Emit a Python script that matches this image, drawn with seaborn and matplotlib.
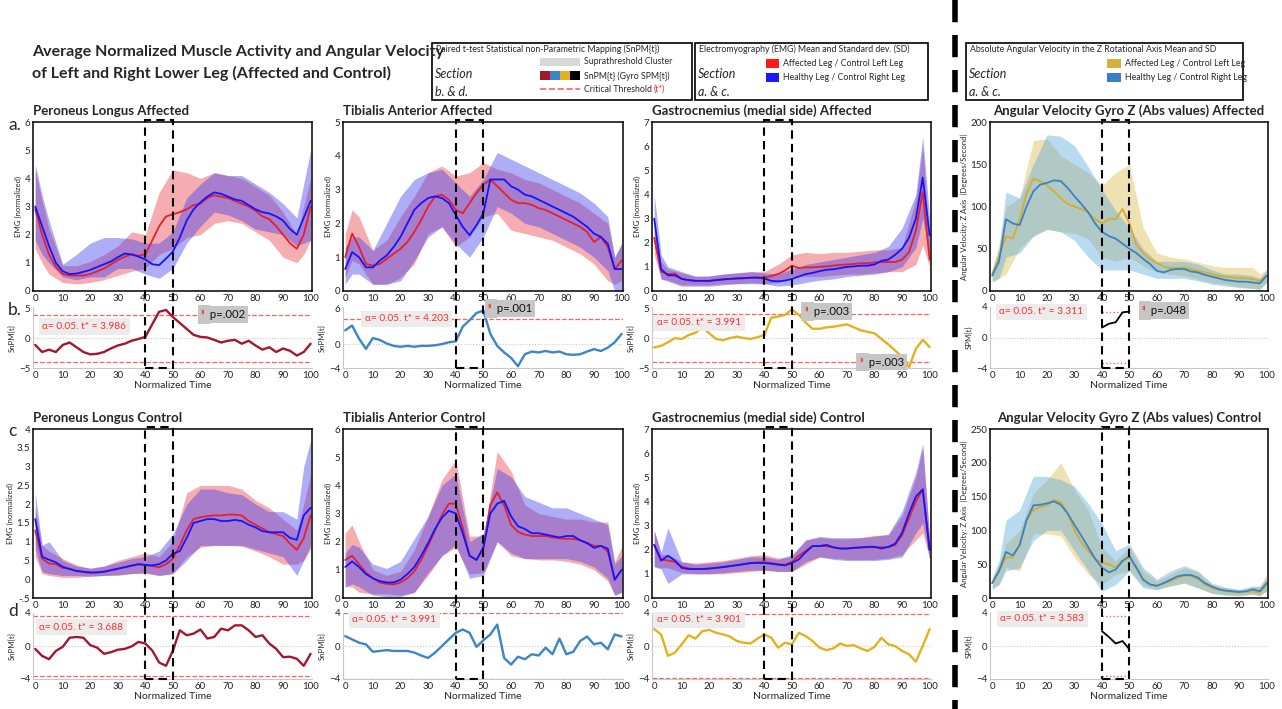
import numpy as np
import matplotlib
matplotlib.use("Agg")
import matplotlib.pyplot as plt
import matplotlib.transforms as mtransforms
from matplotlib.patches import Rectangle
from matplotlib.lines import Line2D
import seaborn as sns

sns.set_style("white")
plt.rcParams['font.family'] = ['Lato', 'DejaVu Sans']

# normalized time grids
x_mean = np.arange(0, 100.1, 2.5)
x_band = [0, 2.5, 5, 10, 15, 20, 25, 30, 35, 40, 45, 50, 55, 60, 65, 70, 75, 80, 85, 90, 95, 97.5, 100]
x_gyro_spm = [40, 42.5, 45, 47.5, 50]

# ---- Peroneus Longus affected
pl_a_red = [2.9, 2.0, 1.3, 0.85, 0.6, 0.55, 0.55, 0.55, 0.6, 0.7, 0.8, 0.95, 1.1, 1.22, 1.3, 1.25, 1.3, 1.8, 2.3, 2.65,
            2.72, 2.8, 2.9, 3.05, 3.1, 3.3, 3.4, 3.35, 3.3, 3.2, 3.1, 3.0, 2.85, 2.65, 2.55, 2.3, 2.0, 1.7, 1.5, 2.0, 3.0]
pl_a_blue = [3.0, 2.3, 1.6, 1.0, 0.7, 0.6, 0.62, 0.68, 0.75, 0.85, 0.95, 1.05, 1.2, 1.33, 1.3, 1.22, 1.12, 0.95, 0.92, 1.15,
             1.4, 1.9, 2.5, 2.9, 3.15, 3.35, 3.5, 3.45, 3.35, 3.25, 3.2, 3.05, 2.9, 2.8, 2.75, 2.65, 2.5, 2.2, 2.0, 2.6, 3.2]
pl_a_red_lo = [1.5, 1.0, 0.6, 0.3, 0.25, 0.3, 0.4, 0.55, 0.7, 0.8, 1.3, 1.5, 1.9, 2.0, 2.4, 2.5, 2.4, 2.1, 1.8, 1.2, 1.0, 1.3, 1.8]
pl_a_red_hi = [4.3, 3.2, 2.2, 0.9, 0.9, 1.05, 1.3, 1.6, 2.1, 2.0, 3.5, 4.3, 4.2, 4.0, 4.2, 4.1, 4.0, 3.7, 3.4, 2.8, 2.0, 3.0, 4.0]
pl_a_blue_lo = [1.8, 1.3, 1.0, 0.5, 0.4, 0.5, 0.5, 0.8, 0.8, 0.6, 0.45, 0.8, 1.7, 2.3, 2.8, 2.7, 2.5, 2.2, 2.1, 2.0, 1.6, 1.7, 1.8]
pl_a_blue_hi = [4.5, 3.4, 2.5, 0.95, 1.3, 1.7, 1.9, 1.9, 1.85, 1.7, 1.7, 2.1, 3.3, 3.8, 4.2, 4.1, 4.1, 3.8, 3.5, 3.1, 2.6, 3.8, 5.0]
pl_a_spm = [-1.1, -2.3, -1.9, -2.3, -1.1, -0.7, -1.5, -2.3, -2.7, -2.6, -2.3, -1.7, -1.2, -0.9, -0.4, -0.1, 0.25, 2.4, 4.5, 4.8,
            3.6, 2.6, 1.6, 0.6, 0.25, 0.15, -0.25, -0.7, -0.4, -0.25, -0.9, -0.4, -1.2, -1.9, -1.5, -2.3, -1.7, -2.1, -2.9, -2.3, -0.9]

# ---- Tibialis Anterior affected
ta_a_red = [1.0, 1.7, 1.3, 0.8, 0.75, 0.8, 0.95, 1.1, 1.25, 1.45, 1.75, 2.1, 2.5, 2.8, 2.85, 2.7, 2.4, 2.3, 2.6, 2.9,
            3.15, 3.3, 3.1, 2.9, 2.7, 2.6, 2.6, 2.55, 2.45, 2.4, 2.3, 2.2, 2.1, 2.0, 1.9, 1.75, 1.45, 1.6, 1.3, 0.65, 0.9]
ta_a_blue = [0.65, 1.15, 1.0, 0.7, 0.7, 0.9, 1.05, 1.3, 1.6, 2.0, 2.4, 2.6, 2.75, 2.8, 2.75, 2.6, 2.25, 1.9, 1.65, 1.95,
             2.3, 3.3, 3.3, 3.3, 3.1, 3.0, 2.85, 2.8, 2.7, 2.6, 2.5, 2.4, 2.3, 2.2, 2.05, 1.9, 1.7, 1.6, 1.4, 0.65, 0.65]
ta_a_red_lo = [0.4, 0.9, 0.8, 0.2, 0.2, 0.4, 0.8, 1.7, 1.9, 1.3, 1.6, 2.2, 2.3, 1.8, 1.7, 1.6, 1.5, 1.3, 1.1, 0.8, 0.3, 0.2, 0.3]
ta_a_red_hi = [1.7, 2.4, 2.2, 1.2, 1.5, 2.2, 2.8, 3.5, 3.7, 3.4, 3.5, 3.8, 3.6, 3.5, 3.3, 3.2, 3.0, 2.8, 2.6, 2.3, 2.0, 1.0, 1.4]
ta_a_blue_lo = [0.2, 0.5, 0.5, 0.2, 0.2, 0.3, 0.9, 1.6, 1.9, 1.4, 1.0, 1.6, 2.5, 2.3, 2.0, 1.9, 1.7, 1.5, 1.3, 1.0, 0.6, 0.0, 0.0]
ta_a_blue_hi = [1.3, 1.6, 1.6, 1.2, 2.0, 2.8, 3.3, 3.5, 3.6, 3.2, 2.8, 3.3, 4.1, 3.9, 3.7, 3.5, 3.3, 3.1, 2.9, 2.6, 2.2, 1.0, 1.4]
ta_a_spm = [2.3, 3.1, 0.9, -0.8, 1.0, 0.7, 0.1, -0.3, -0.45, -0.3, -0.45, -0.3, -0.3, -0.2, 0.0, 0.3, 0.45, 2.9, 4.0, 5.2,
            5.6, 1.7, -0.3, -1.4, -2.3, -3.7, -1.7, -1.25, -1.4, -1.15, -1.4, -1.25, -1.7, -1.8, -1.7, -1.25, -0.85, -1.15, -0.6, 0.3, 1.7]

# ---- Gastrocnemius affected
ga_a_red = [2.2, 0.8, 0.7, 0.72, 0.5, 0.45, 0.42, 0.42, 0.42, 0.45, 0.48, 0.5, 0.52, 0.53, 0.55, 0.57, 0.55, 0.62, 0.7, 0.85,
            1.05, 0.95, 0.98, 0.98, 1.0, 1.02, 1.05, 1.08, 1.1, 1.12, 1.15, 1.15, 1.18, 1.2, 1.2, 1.2, 1.3, 1.6, 2.5, 4.1, 1.3]
ga_a_blue = [3.0, 0.9, 0.65, 0.65, 0.5, 0.45, 0.42, 0.42, 0.42, 0.45, 0.48, 0.5, 0.52, 0.53, 0.55, 0.55, 0.52, 0.42, 0.4, 0.43,
             0.5, 0.6, 0.7, 0.75, 0.82, 0.88, 0.9, 0.95, 1.0, 1.02, 1.05, 1.05, 1.1, 1.25, 1.3, 1.5, 1.75, 2.2, 3.0, 4.7, 2.3]
ga_a_red_lo = [1.5, 0.5, 0.45, 0.25, 0.25, 0.25, 0.3, 0.3, 0.35, 0.3, 0.35, 0.6, 0.6, 0.6, 0.65, 0.7, 0.7, 0.75, 0.8, 0.8, 1.1, 1.9, 1.0]
ga_a_red_hi = [2.7, 1.2, 0.9, 0.75, 0.6, 0.62, 0.7, 0.75, 0.8, 0.8, 1.1, 1.5, 1.6, 1.55, 1.6, 1.6, 1.65, 1.7, 1.7, 1.8, 3.8, 6.0, 2.0]
ga_a_blue_lo = [2.0, 0.5, 0.4, 0.2, 0.2, 0.2, 0.25, 0.3, 0.3, 0.3, 0.2, 0.25, 0.35, 0.45, 0.5, 0.6, 0.65, 0.7, 0.8, 1.0, 1.8, 3.0, 1.5]
ga_a_blue_hi = [4.0, 1.5, 1.0, 0.8, 0.62, 0.62, 0.7, 0.75, 0.8, 0.75, 0.7, 0.9, 1.1, 1.2, 1.3, 1.4, 1.5, 1.6, 1.85, 2.6, 4.0, 6.4, 3.0]
ga_a_spm = [-1.55, -1.3, -0.7, 0.0, -0.15, 0.5, 0.9, 1.8, 0.8, -0.15, -0.35, 0.0, 0.25, 0.0, -0.15, 0.15, 0.5, 3.4, 3.6, 3.9,
            4.8, 3.9, 2.6, 1.55, 1.55, 1.8, 1.9, 2.1, 2.3, 1.8, 1.3, 1.05, 0.8, -0.15, -1.05, -2.1, -3.1, -4.9, -1.8, -0.3, -1.5]

# ---- Gyro Z affected
gy_a_gold = [20, 40, 65, 62, 85, 115, 133, 130, 125, 118, 110, 103, 100, 97, 93, 85, 80, 85, 85, 97,
             80, 55, 45, 38, 33, 29, 27, 27, 28, 26, 24, 22, 20, 18, 17, 16, 15, 15, 14, 12, 18]
gy_a_blue = [18, 35, 85, 80, 78, 100, 118, 126, 128, 131, 130, 122, 112, 103, 93, 80, 70, 65, 62, 56,
             50, 45, 38, 32, 24, 22, 25, 26, 26, 23, 22, 19, 17, 15, 13, 12, 11, 11, 10, 9, 18]
gy_a_gold_lo = [12, 15, 20, 50, 65, 73, 70, 68, 62, 40, 35, 40, 30, 22, 20, 18, 14, 10, 8, 5, 3, 2, 10]
gy_a_gold_hi = [25, 55, 100, 110, 178, 180, 160, 150, 140, 125, 140, 150, 75, 45, 40, 38, 34, 30, 28, 28, 28, 20, 25]
gy_a_blue_lo = [10, 15, 40, 45, 65, 73, 70, 60, 40, 25, 25, 25, 20, 15, 15, 15, 12, 8, 6, 4, 3, 2, 10]
gy_a_blue_hi = [25, 50, 117, 110, 150, 185, 183, 172, 147, 120, 95, 75, 50, 35, 35, 35, 32, 25, 20, 20, 18, 15, 25]
gy_a_spm = [1.3, 1.8, 2.0, 3.3, 3.4]

# ---- Peroneus Longus control
pl_c_red = [1.3, 0.55, 0.42, 0.4, 0.3, 0.28, 0.22, 0.19, 0.17, 0.18, 0.2, 0.24, 0.28, 0.32, 0.37, 0.4, 0.38, 0.35, 0.32, 0.4,
            0.55, 0.9, 1.3, 1.6, 1.65, 1.68, 1.7, 1.7, 1.72, 1.72, 1.7, 1.55, 1.45, 1.35, 1.25, 1.2, 1.15, 0.95, 0.78, 1.1, 1.7]
pl_c_blue = [1.6, 0.6, 0.52, 0.45, 0.33, 0.27, 0.22, 0.2, 0.18, 0.18, 0.2, 0.24, 0.28, 0.32, 0.36, 0.4, 0.38, 0.37, 0.4, 0.5,
             0.68, 0.75, 1.1, 1.5, 1.55, 1.6, 1.6, 1.55, 1.55, 1.58, 1.55, 1.45, 1.38, 1.28, 1.25, 1.25, 1.25, 1.1, 1.05, 1.7, 1.9]
pl_c_red_lo = [0.6, 0.15, 0.1, 0.05, 0.05, 0.08, 0.1, 0.1, 0.15, 0.15, 0.1, 0.15, 0.6, 0.85, 0.9, 0.9, 0.88, 0.75, 0.6, 0.4, 0.4, 0.5, 0.8]
pl_c_red_hi = [1.9, 0.9, 0.75, 0.55, 0.38, 0.28, 0.35, 0.5, 0.6, 0.7, 0.6, 1.0, 2.3, 2.5, 2.5, 2.5, 2.4, 2.1, 1.9, 1.6, 1.3, 2.0, 2.8]
pl_c_blue_lo = [0.8, 0.2, 0.15, 0.1, 0.1, 0.08, 0.1, 0.12, 0.15, 0.18, 0.1, 0.15, 0.5, 0.9, 0.9, 0.9, 0.9, 0.8, 0.7, 0.6, 0.1, 0.5, 0.9]
pl_c_blue_hi = [2.3, 0.9, 1.0, 0.5, 0.35, 0.3, 0.35, 0.45, 0.55, 0.6, 0.75, 1.2, 2.0, 2.4, 2.4, 2.3, 2.25, 2.0, 1.8, 1.8, 1.6, 3.0, 3.7]
pl_c_spm = [-0.35, -1.2, -1.6, -0.6, -0.1, 1.0, 1.1, 1.0, 0.1, -0.2, -0.95, -0.75, -0.45, -0.35, -0.05, 0.5, 0.3, -0.55, -2.0, -2.4,
            -0.55, 1.9, 1.3, 1.5, 2.0, 0.9, 1.1, 2.1, 1.9, 2.5, 2.5, 1.9, 1.1, 1.3, 0.3, -0.35, -1.35, -1.3, -1.55, -2.4, -0.95]

# ---- Tibialis Anterior control
ta_c_red = [1.35, 1.5, 1.2, 0.9, 0.7, 0.55, 0.5, 0.48, 0.55, 0.7, 0.95, 1.35, 1.85, 2.4, 2.95, 3.35, 3.35, 2.5, 1.5, 1.35,
            1.75, 3.3, 3.75, 3.3, 2.6, 2.35, 2.25, 2.2, 2.2, 2.2, 2.15, 2.12, 2.1, 2.1, 2.05, 1.95, 1.85, 1.85, 1.65, 0.65, 1.0]
ta_c_blue = [1.1, 1.3, 1.1, 0.85, 0.7, 0.6, 0.55, 0.55, 0.65, 0.85, 1.1, 1.5, 1.95, 2.45, 2.85, 3.1, 3.0, 2.3, 1.5, 1.35,
             1.8, 3.0, 3.35, 3.45, 2.9, 2.55, 2.45, 2.3, 2.3, 2.25, 2.2, 2.15, 2.2, 2.2, 2.05, 1.95, 1.78, 1.85, 1.75, 0.65, 1.0]
ta_c_red_lo = [0.4, 0.4, 0.2, 0.15, 0.15, 0.1, 0.2, 0.8, 1.5, 1.8, 0.85, 0.9, 2.0, 1.5, 1.4, 1.35, 1.35, 1.3, 1.2, 1.0, 0.6, 0.1, 0.2]
ta_c_red_hi = [2.3, 2.6, 2.0, 1.0, 0.8, 0.95, 1.7, 2.9, 4.2, 4.9, 2.2, 2.2, 5.2, 4.5, 3.3, 3.0, 2.9, 2.8, 2.8, 2.7, 2.7, 1.3, 1.8]
ta_c_blue_lo = [0.4, 0.5, 0.4, 0.1, 0.05, 0.05, 0.2, 0.9, 1.5, 1.9, 0.7, 0.8, 2.0, 1.6, 1.4, 1.4, 1.4, 1.4, 1.3, 1.1, 0.7, 0.1, 0.2]
ta_c_blue_hi = [1.6, 1.9, 1.8, 1.2, 1.05, 1.3, 2.1, 2.9, 4.0, 4.4, 2.0, 2.3, 4.6, 4.3, 3.6, 3.4, 3.2, 3.2, 3.0, 2.8, 2.6, 1.2, 1.5]
ta_c_spm = [1.2, 0.8, 0.4, 0.2, -0.7, -0.6, -0.5, -0.6, -0.6, -0.6, -0.8, -1.15, -1.45, -0.8, 0.0, 0.8, 1.6, 2.0, 1.6, -0.1,
            0.7, 1.4, 2.6, -1.45, -2.25, -1.3, -1.6, -1.0, -1.15, -0.2, -1.0, 0.9, -1.0, -0.7, 0.6, 1.15, 0.2, 0.4, -0.4, 1.4, 1.15]

# ---- Gastrocnemius control
ga_c_red = [2.2, 1.6, 1.55, 1.5, 1.3, 1.22, 1.2, 1.2, 1.22, 1.25, 1.28, 1.32, 1.36, 1.4, 1.45, 1.48, 1.48, 1.45, 1.4, 1.38,
            1.5, 1.75, 1.95, 2.15, 2.15, 2.15, 2.1, 2.05, 2.05, 2.07, 2.08, 2.1, 2.1, 2.1, 2.1, 2.2, 2.6, 3.3, 4.0, 4.5, 2.0]
ga_c_blue = [2.2, 1.55, 1.75, 1.55, 1.25, 1.2, 1.2, 1.2, 1.22, 1.25, 1.28, 1.32, 1.36, 1.4, 1.45, 1.45, 1.45, 1.42, 1.38, 1.35,
             1.45, 1.6, 1.9, 2.15, 2.15, 2.2, 2.1, 2.05, 2.05, 2.08, 2.1, 2.12, 2.12, 2.05, 2.12, 2.25, 2.7, 3.5, 4.2, 4.5, 2.0]
ga_c_red_lo = [1.3, 1.25, 1.25, 1.05, 1.0, 1.0, 1.0, 1.05, 1.1, 1.15, 1.1, 1.1, 1.4, 1.7, 1.65, 1.6, 1.6, 1.6, 1.65, 1.8, 2.4, 2.7, 1.6]
ga_c_red_hi = [2.8, 1.8, 1.8, 1.5, 1.45, 1.5, 1.55, 1.65, 1.75, 1.8, 1.65, 1.7, 2.4, 2.5, 2.45, 2.45, 2.5, 2.6, 2.6, 3.4, 5.0, 6.2, 2.5]
ga_c_blue_lo = [1.3, 1.2, 0.6, 1.0, 1.0, 1.0, 1.05, 1.1, 1.15, 1.15, 1.1, 1.1, 1.5, 1.7, 1.6, 1.55, 1.55, 1.55, 1.6, 1.7, 2.7, 3.1, 1.6]
ga_c_blue_hi = [2.8, 1.9, 2.9, 1.5, 1.4, 1.45, 1.5, 1.6, 1.7, 1.7, 1.6, 1.8, 2.4, 2.55, 2.5, 2.5, 2.5, 2.55, 2.65, 3.6, 5.2, 6.4, 2.5]
ga_c_spm = [2.05, 1.4, -1.2, -0.8, 0.2, 1.3, 0.9, 1.8, 1.95, 1.6, 1.4, 1.15, 0.6, 0.4, 0.3, 0.9, 1.4, 1.0, -0.2, 0.4,
            0.2, 1.6, 1.2, 0.6, -0.2, -0.5, -0.3, 0.3, 0.0, 0.1, -0.3, -0.6, -0.1, 1.0, 0.2, 0.0, -0.6, -1.0, -1.9, 0.0, 2.05]

# ---- Gyro Z control
gy_c_gold = [22, 40, 60, 60, 80, 115, 130, 135, 137, 145, 142, 125, 100, 82, 70, 58, 52, 50, 45, 55,
             60, 45, 28, 20, 18, 22, 25, 30, 33, 33, 28, 20, 15, 12, 10, 9, 8, 9, 10, 8, 20]
gy_c_blue = [22, 40, 68, 63, 78, 115, 137, 138, 140, 143, 138, 125, 108, 92, 75, 58, 45, 38, 42, 55,
             62, 45, 27, 20, 18, 22, 27, 32, 34, 34, 30, 22, 17, 13, 11, 10, 9, 10, 13, 10, 22]
gy_c_gold_lo = [15, 20, 45, 40, 95, 95, 92, 60, 35, 20, 35, 40, 18, 13, 18, 22, 15, 7, 5, 4, 5, 4, 10]
gy_c_gold_hi = [30, 50, 80, 100, 155, 175, 200, 160, 130, 75, 55, 75, 40, 25, 35, 45, 38, 20, 15, 12, 14, 18, 35]
gy_c_blue_lo = [12, 20, 40, 45, 85, 100, 100, 70, 40, 10, 20, 40, 15, 12, 18, 22, 15, 7, 4, 3, 6, 3, 10]
gy_c_blue_hi = [30, 55, 115, 130, 180, 180, 175, 165, 140, 110, 70, 80, 45, 28, 40, 48, 40, 22, 16, 13, 18, 17, 30]
gy_c_spm = [1.8, 1.1, 0.3, 0.6, -0.4]

# colours
EMG_RED, EMG_RED_FILL = '#e4202c', '#eb3c46'
EMG_BLUE, EMG_BLUE_FILL = '#1414ff', '#3c3cf0'
GY_GOLD, GY_GOLD_FILL = '#d7ac28', '#dcb84a'
GY_BLUE, GY_BLUE_FILL = '#3a82c6', '#5aaadc'
SPM_COLS = ['#a3172f', '#3a86c8', '#e2b21e', 'black']
THR_RED = '#ff6060'

W, H = 1282, 709
fig = plt.figure(figsize=(W / 100, H / 100), dpi=100)
bg = fig.add_axes([0, 0, 1, 1])
bg.set_xlim(0, W)
bg.set_ylim(H, 0)
bg.axis('off')


def rect(l, t, r, b):
    return [l / W, 1 - b / H, (r - l) / W, (b - t) / H]


col_l = [33, 343, 652, 990]
col_r = [312, 623, 931, 1268]
emg_tb = [(122, 291), (429, 598)]
spm_tb = [(307, 368), (613, 679)]

panels = [
    dict(title="Peroneus Longus Affected", m=(pl_a_red, pl_a_blue), lo=(pl_a_red_lo, pl_a_blue_lo), hi=(pl_a_red_hi, pl_a_blue_hi),
         ylim=(0, 6), yt=range(0, 7), spm=pl_a_spm, sylim=(-5, 5.3), syt=[-5, 0, 5], thr=3.986,
         abox=(2.5, 2.0), pbox=[(60, 4.0, 'p=.002')]),
    dict(title="Tibialis Anterior Affected", m=(ta_a_red, ta_a_blue), lo=(ta_a_red_lo, ta_a_blue_lo), hi=(ta_a_red_hi, ta_a_blue_hi),
         ylim=(0, 5), yt=range(0, 6), spm=ta_a_spm, sylim=(-4, 6.2), syt=[-4, 0, 6], thr=4.203,
         abox=(7, 4.2), pbox=[(51.5, 5.9, 'p=.001')]),
    dict(title="Gastrocnemius (medial side) Affected", m=(ga_a_red, ga_a_blue), lo=(ga_a_red_lo, ga_a_blue_lo), hi=(ga_a_red_hi, ga_a_blue_hi),
         ylim=(0, 7), yt=range(0, 8), spm=ga_a_spm, sylim=(-5, 5.2), syt=[-5, 0, 5], thr=3.991,
         abox=(1, 2.6), pbox=[(54.5, 4.4, 'p=.003'), (74.5, -4.0, 'p=.003')]),
    dict(title="Angular Velocity Gyro Z (Abs values) Affected", m=(gy_a_gold, gy_a_blue), lo=(gy_a_gold_lo, gy_a_blue_lo),
         hi=(gy_a_gold_hi, gy_a_blue_hi), ylim=(0, 200), yt=range(0, 201, 50), spm=gy_a_spm, sylim=(-4, 4), syt=[-4, 0, 4],
         thr=3.311, abox=(2.5, 3.4), pbox=[(54.5, 3.5, 'p=.048')], gyro=True),
    dict(title="Peroneus Longus Control", m=(pl_c_red, pl_c_blue), lo=(pl_c_red_lo, pl_c_blue_lo), hi=(pl_c_red_hi, pl_c_blue_hi),
         ylim=(-0.5, 4), yt=np.arange(-0.5, 4.01, 0.5), ytl=['-.5', '0', '.5', '1', '1.5', '2', '2.5', '3', '3.5', '4'],
         spm=pl_c_spm, sylim=(-4, 4), syt=[-4, 0, 4], thr=3.688, abox=(1.5, 2.3), pbox=[]),
    dict(title="Tibialis Anterior Control", m=(ta_c_red, ta_c_blue), lo=(ta_c_red_lo, ta_c_blue_lo), hi=(ta_c_red_hi, ta_c_blue_hi),
         ylim=(0, 6), yt=range(0, 7), spm=ta_c_spm, sylim=(-4, 4), syt=[-4, 0, 4], thr=3.991, abox=(2.5, 3.2), pbox=[]),
    dict(title="Gastrocnemius (medial side) Control", m=(ga_c_red, ga_c_blue), lo=(ga_c_red_lo, ga_c_blue_lo), hi=(ga_c_red_hi, ga_c_blue_hi),
         ylim=(0, 7), yt=range(0, 8), spm=ga_c_spm, sylim=(-4, 4), syt=[-4, 0, 4], thr=3.901, abox=(1, 3.2), pbox=[]),
    dict(title="Angular Velocity Gyro Z (Abs values) Control", m=(gy_c_gold, gy_c_blue), lo=(gy_c_gold_lo, gy_c_blue_lo),
         hi=(gy_c_gold_hi, gy_c_blue_hi), ylim=(0, 250), yt=range(0, 251, 50), spm=gy_c_spm, sylim=(-4, 4), syt=[-4, 0, 4],
         thr=3.583, abox=(3, 3.3), pbox=[], gyro=True),
]

for i, p in enumerate(panels):
    row, col = divmod(i, 4)
    gyro = p.get('gyro', False)
    l, r = col_l[col], col_r[col]
    et, eb = emg_tb[row]
    st, sb = spm_tb[row]

    # ---- mean +/- SD panel
    ax = fig.add_axes(rect(l, et, r, eb))
    if gyro:
        cols, fills = (GY_GOLD, GY_BLUE), (GY_GOLD_FILL, GY_BLUE_FILL)
    else:
        cols, fills = (EMG_RED, EMG_BLUE), (EMG_RED_FILL, EMG_BLUE_FILL)
    for k in range(2):
        ax.fill_between(x_band, p['lo'][k], p['hi'][k], color=fills[k], alpha=0.42, lw=0)
        sns.lineplot(x=x_mean, y=p['m'][k], ax=ax, color=cols[k], lw=1.3)
    ax.set_xlim(-0.8, 100.5)
    ax.set_ylim(*p['ylim'])
    ax.set_yticks(list(p['yt']))
    if 'ytl' in p:
        ax.set_yticklabels(p['ytl'])
    ax.set_xticks(range(0, 101, 10))
    ax.tick_params(direction='in', length=2.5, labelsize=7, pad=2, colors='#222222')
    for s in ax.spines.values():
        s.set_color('black')
        s.set_linewidth(1.1)
    ax.set_ylabel("Angular Velocity: Z Axis  |Degrees/Second|" if gyro else "EMG (normalized)", fontsize=5.6, labelpad=2)
    ax.set_title(p['title'], fontsize=9.5, fontweight='bold', loc='center' if gyro else 'left', pad=5)

    # ---- SPM{t} panel
    sx = fig.add_axes(rect(l, st, r, sb))
    sx.axhline(0, color='#c8c8c8', ls=':', lw=0.8)
    if gyro:
        sx.hlines([p['thr'], -p['thr']], 40, 50, color=THR_RED, ls=':', lw=1.0)
        sns.lineplot(x=x_gyro_spm, y=p['spm'], ax=sx, color=SPM_COLS[3], lw=1.3)
    else:
        sx.axhline(p['thr'], color=THR_RED, ls='--', lw=0.9)
        sx.axhline(-p['thr'], color=THR_RED, ls='--', lw=0.9)
        sns.lineplot(x=x_mean, y=p['spm'], ax=sx, color=SPM_COLS[col], lw=1.7)
    sx.set_xlim(-0.8, 100.5)
    sx.set_ylim(*p['sylim'])
    sx.set_yticks(p['syt'])
    sx.set_xticks(range(0, 101, 10))
    sx.tick_params(direction='in', length=2, labelsize=7, pad=2, colors='#222222')
    for side in ('top', 'right'):
        sx.spines[side].set_visible(False)
    for side in ('left', 'bottom'):
        sx.spines[side].set_color('#c8c8c8')
        sx.spines[side].set_linewidth(0.8)
    sx.set_ylabel("SPM{t}" if gyro else "SnPM{t}", fontsize=5.6, labelpad=2)
    sx.set_xlabel("Normalized Time", fontsize=7.5, labelpad=1)

    ax_, ay_ = p['abox']
    sx.text(ax_, ay_, "\u03b1= 0.05. t* = %.3f" % p['thr'], color='#ff3030', fontsize=7.3, va='center', ha='left',
            zorder=5, bbox=dict(boxstyle='square,pad=0.35', fc='#ececec', ec='none'))
    for (px, py, txt) in p['pbox']:
        star = sx.text(px, py, "*", color='#ff1a1a', fontsize=8.5, family='DejaVu Sans', fontweight='bold',
                       va='center', ha='left', zorder=5,
                       bbox=dict(boxstyle='square,pad=0.25', fc='#c6c6c6', ec='none'))
        sx.annotate(" " + txt, xy=(1, 0.5), xycoords=star, color='#111111', fontsize=8.2, va='center', ha='left',
                    zorder=5, bbox=dict(boxstyle='square,pad=0.25', fc='#c6c6c6', ec='none'))

    # ---- dashed window 40-50 spanning both axes
    tr = mtransforms.blended_transform_factory(ax.transData, fig.transFigure)
    y_top = 1 - (et - 2) / H
    y_bot = 1 - sb / H
    fig.add_artist(Rectangle((40, y_bot), 10, y_top - y_bot, transform=tr, fill=False, ec='black',
                             lw=1.5, ls=(0, (4, 2.5)), zorder=10))

# ---- titles and legends
bg.text(32, 52, "Average Normalized Muscle Activity and Angular Velocity", fontsize=11.5, fontweight='bold', va='center')
bg.text(32, 73, "of Left and Right Lower Leg (Affected and Control)", fontsize=11.5, fontweight='bold', va='center')
for lbl, yy in [("a.", 125), ("b.", 310), ("c", 431), ("d", 611)]:
    bg.text(8, yy, lbl, fontsize=12.5, va='center')

LEG_FS = 6.3


def legend_box(l, t, r, b, head, section):
    bg.add_patch(Rectangle((l, t), r - l, b - t, fill=False, ec='black', lw=1.2))
    bg.text(l + 4, t + 6, head, fontsize=LEG_FS, va='center')
    bg.text(l + 3, t + 31, "Section", fontsize=9, style='italic', va='center')
    bg.text(l + 3, t + 49, section, fontsize=9, style='italic', va='center')


legend_box(432, 43, 692, 100, "Paired t-test Statistical non-Parametric Mapping (SnPM{t})", "b. & d.")
bg.add_patch(Rectangle((540, 58), 40, 8, fc='#d8d8d8', ec='none'))
bg.text(584, 62, "Suprathreshold Cluster", fontsize=LEG_FS, va='center')
for k, c in enumerate(SPM_COLS):
    bg.add_patch(Rectangle((540 + 10 * k, 71), 10, 9, fc=c, ec='none'))
bg.text(584, 76, "SnPM{t} (Gyro SPM{t})", fontsize=LEG_FS, va='center')
bg.add_line(Line2D([540, 580], [89, 89], color=THR_RED, ls='--', lw=1.2))
t_crit = bg.text(584, 89, "Critical Threshold ", fontsize=LEG_FS, va='center')
bg.annotate("(t*)", xy=(1, 0.5), xycoords=t_crit, va='center', ha='left', fontsize=LEG_FS, color='#ff2020')

legend_box(695, 43, 928, 100, "Electromyography (EMG) Mean and Standard dev. (SD)", "a. & c.")
bg.add_patch(Rectangle((766, 59), 13, 9, fc='#ff1a1a', ec='none'))
bg.text(783, 64, "Affected Leg / Control Left Leg", fontsize=LEG_FS, va='center')
bg.add_patch(Rectangle((766, 73), 13, 9, fc='#1a1aff', ec='none'))
bg.text(783, 78, "Healthy Leg / Control Right Leg", fontsize=LEG_FS, va='center')

legend_box(966, 43, 1243, 100, "Absolute Angular Velocity in the Z Rotational Axis Mean and SD", "a. & c.")
bg.add_patch(Rectangle((1107, 59), 14, 9, fc='#d9b03c', ec='none'))
bg.text(1125, 64, "Affected Leg / Control Left Leg", fontsize=LEG_FS, va='center')
bg.add_patch(Rectangle((1107, 73), 14, 9, fc='#3a7dc9', ec='none'))
bg.text(1125, 78, "Healthy Leg / Control Right Leg", fontsize=LEG_FS, va='center')

# thick separator between EMG and gyro columns
bg.add_line(Line2D([955, 955], [0, H], color='black', lw=4, ls=(0, (4, 2.3))))

fig.savefig("out.png", dpi=100)
